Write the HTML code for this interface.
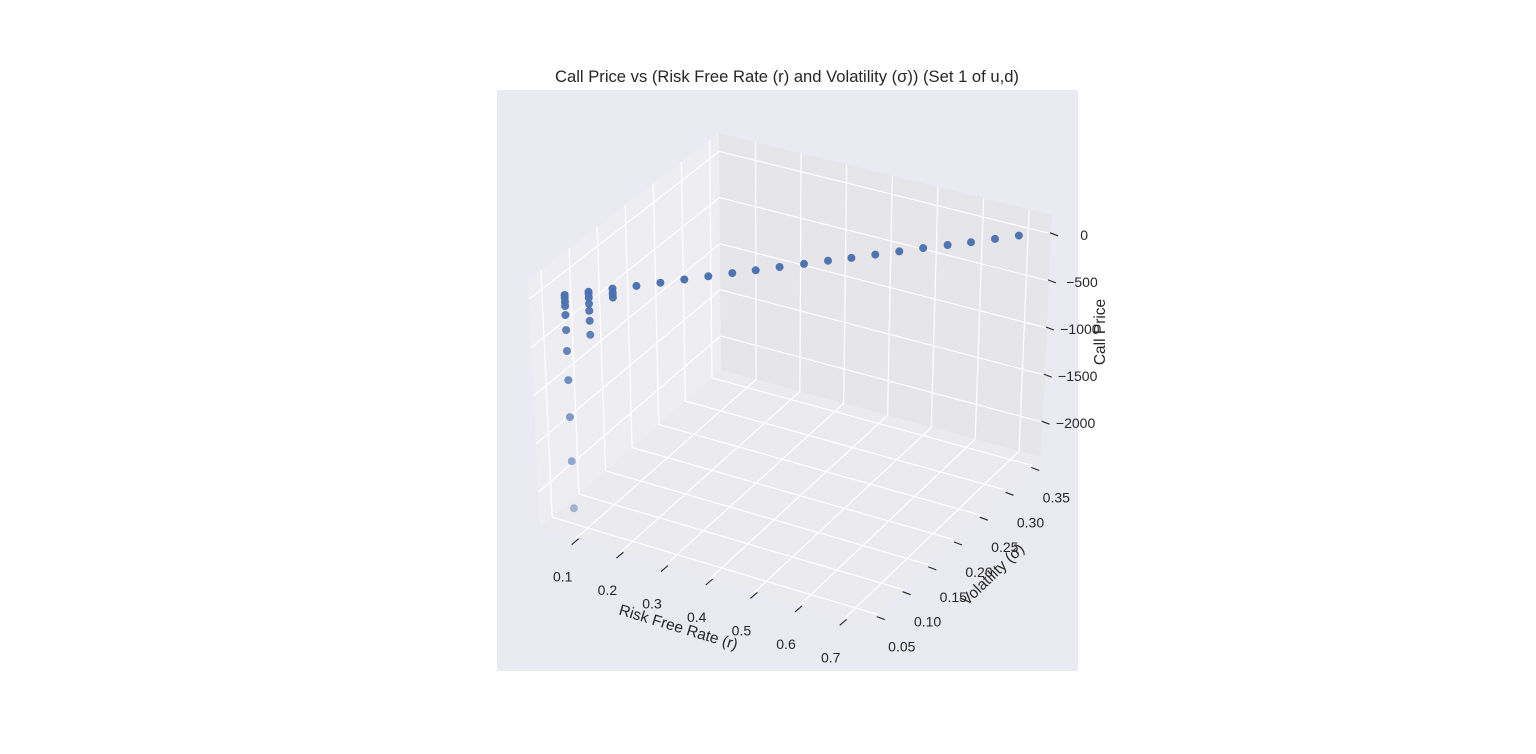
<!DOCTYPE html>
<html><head><meta charset="utf-8">
<style>
html,body{margin:0;padding:0;background:#fff;}
svg{display:block;font-family:"Liberation Sans",Arial,sans-serif;}
</style></head>
<body>
<svg id="chart" width="1536" height="754" viewBox="0 0 1536 754" xmlns="http://www.w3.org/2000/svg">
<rect x="0" y="0" width="1536" height="754" fill="#ffffff"/>
<rect x="497" y="90" width="581" height="581" fill="#eaeaf2"/>
<text x="787" y="82" text-anchor="middle" font-size="16.6" fill="#262626">Call Price vs (Risk Free Rate (r) and Volatility (σ)) (Set 1 of u,d)</text>
<g id="panes"></g>
<g id="grid"></g>
<g id="ticks"></g>
<g id="points"></g>
<text x="0" y="0" transform="translate(677,632) rotate(16.7)" text-anchor="middle" font-size="15.5" fill="#262626">Risk Free Rate (r)</text>
<text x="0" y="0" transform="translate(996,578) rotate(-44)" text-anchor="middle" font-size="15.5" fill="#262626">Volatility (σ)</text>
<text x="0" y="0" transform="translate(1105,332) rotate(-90)" text-anchor="middle" font-size="15.5" fill="#262626">Call Price</text>
</svg>
<script>
// ---- data ----
const rTicks = [0.1, 0.2, 0.3, 0.4, 0.5, 0.6, 0.7];
const rTickLabels = ["0.1","0.2","0.3","0.4","0.5","0.6","0.7"];
const sTicks = [0.05, 0.10, 0.15, 0.20, 0.25, 0.30, 0.35];
const sTickLabels = ["0.05","0.10","0.15","0.20","0.25","0.30","0.35"];
const zTicks = [0, -500, -1000, -1500, -2000];
const zTickLabels = ["0","\u2212500","\u22121000","\u22121500","\u22122000"];
const rLim = [0.02, 0.75];
const sLim = [0.027, 0.367];
const zLim = [-2370, 200];
// points: risk free rate, volatility, call price
const pointR = [0.070,0.070,0.070,0.070,0.070,0.070,0.070,0.070,0.070,0.070,0.070,
  0.103,0.103,0.103,0.103,0.103,0.103,0.103,
  0.136,0.136,0.136,0.136,
  0.170,0.203,0.236,0.269,0.302,0.335,0.368,0.402,0.435,0.468,0.501,0.534,0.567,0.601,0.634,0.667,0.700];
const pointS = [0.050,0.050,0.050,0.050,0.050,0.050,0.050,0.050,0.050,0.050,0.050,
  0.066,0.066,0.066,0.066,0.066,0.066,0.066,
  0.082,0.082,0.082,0.082,
  0.097,0.113,0.129,0.145,0.161,0.176,0.192,0.208,0.224,0.239,0.255,0.271,0.287,0.303,0.318,0.334,0.350];
const pointPrice = [0,-31,-73,-114,-207,-363,-580,-881,-1264,-1720,-2207,
  0,-21,-62,-124,-197,-300,-445,
  0,-41,-62,-93,
  0,0,0,0,0,0,0,0,0,0,0,0,0,0,0,0,0];

// ---- projection (trilinear between measured box corners) ----
const C = {
  L0:[540,528], B0:[721,370], R0:[1041,457], F0:[866,626],
  L1:[528,280], B1:[719,133], R1:[1052,215], F1:[861,362]
};
function lerp(a,b,t){return [a[0]+(b[0]-a[0])*t, a[1]+(b[1]-a[1])*t];}
function proj(r,s,z){
  const fr=(r-rLim[0])/(rLim[1]-rLim[0]);
  const fs=(s-sLim[0])/(sLim[1]-sLim[0]);
  const fz=(z-zLim[0])/(zLim[1]-zLim[0]);
  const bot = lerp(lerp(C.L0,C.F0,fr), lerp(C.B0,C.R0,fr), fs);
  const top = lerp(lerp(C.L1,C.F1,fr), lerp(C.B1,C.R1,fr), fs);
  return lerp(bot, top, fz);
}
const NS="http://www.w3.org/2000/svg";
function mk(tag, attrs, parent){
  const e=document.createElementNS(NS,tag);
  for(const k in attrs) e.setAttribute(k, attrs[k]);
  parent.appendChild(e); return e;
}
const pts = a => a.map(p=>p[0].toFixed(1)+","+p[1].toFixed(1)).join(" ");
const panes=document.getElementById('panes');
const grid=document.getElementById('grid');
const ticks=document.getElementById('ticks');
const points=document.getElementById('points');
const [r0,r1]=rLim,[s0,s1]=sLim,[z0,z1]=zLim;

// panes
let p;
p=mk('polygon',{points:pts([proj(r0,s0,z0),proj(r0,s0,z1),proj(r0,s1,z1),proj(r0,s1,z0)]),fill:'#eeeef2'},panes);


p=mk('polygon',{points:pts([proj(r0,s1,z0),proj(r0,s1,z1),proj(r1,s1,z1),proj(r1,s1,z0)]),fill:'#e5e5ea'},panes);


p=mk('polygon',{points:pts([proj(r0,s0,z0),proj(r1,s0,z0),proj(r1,s1,z0),proj(r0,s1,z0)]),fill:'#ebebef'},panes);



function line(a,b,parent,stroke,w,name){
  const l=mk('line',{x1:a[0].toFixed(1),y1:a[1].toFixed(1),x2:b[0].toFixed(1),y2:b[1].toFixed(1),stroke:stroke,'stroke-width':w},parent);
  
  
  return l;
}
// gridlines
rTicks.forEach(r=>{
  line(proj(r,s0,z0),proj(r,s1,z0),grid,'#fff',1.2,'x-gridline-floor');
  line(proj(r,s1,z0),proj(r,s1,z1),grid,'#fff',1.2,'x-gridline-wall');
});
sTicks.forEach(s=>{
  line(proj(r0,s,z0),proj(r1,s,z0),grid,'#fff',1.2,'y-gridline-floor');
  line(proj(r0,s,z0),proj(r0,s,z1),grid,'#fff',1.2,'y-gridline-wall');
});
zTicks.forEach(z=>{
  line(proj(r0,s0,z),proj(r0,s1,z),grid,'#fff',1.2,'z-gridline-left');
  line(proj(r0,s1,z),proj(r1,s1,z),grid,'#fff',1.2,'z-gridline-back');
});
// ticks and labels
function label(x,y,txt,name){
  const t=mk('text',{x:x.toFixed(1),y:y.toFixed(1),'text-anchor':'middle','font-size':'14',fill:'#262626'},ticks);
  t.textContent=txt;
  
  
}
rTicks.forEach((r,i)=>{
  const q=proj(r,s0,z0);
  line([q[0]-4,q[1]+6],[q[0]+3,q[1]],ticks,'#262626',1.1,'x-tick-mark');
  label(q[0]-13,q[1]+43,rTickLabels[i],'x-tick-label');
});
sTicks.forEach((s,i)=>{
  const q=proj(r1,s,z0);
  line([q[0]-1,q[1]+2],[q[0]+7,q[1]+5],ticks,'#262626',1.1,'y-tick-mark');
  label(q[0]+24,q[1]+37,sTickLabels[i],'y-tick-label');
});
zTicks.forEach((z,i)=>{
  const q=proj(r1,s1,z);
  line([q[0]-1,q[1]-1],[q[0]+7,q[1]+2],ticks,'#262626',1.1,'z-tick-mark');
  label(q[0]+33,q[1]+6,zTickLabels[i],'z-tick-label');
});
// points
pointR.forEach((r,i)=>{
  const q=proj(r,pointS[i],pointPrice[i]);
  const fz=(pointPrice[i]-z0)/(z1-z0);
  const op=Math.min(1,0.42+0.62*fz);
  const c=mk('circle',{cx:q[0].toFixed(1),cy:q[1].toFixed(1),r:4,fill:'#4c72b0','fill-opacity':op.toFixed(2)},points);
  
  
});
</script>
</body></html>
